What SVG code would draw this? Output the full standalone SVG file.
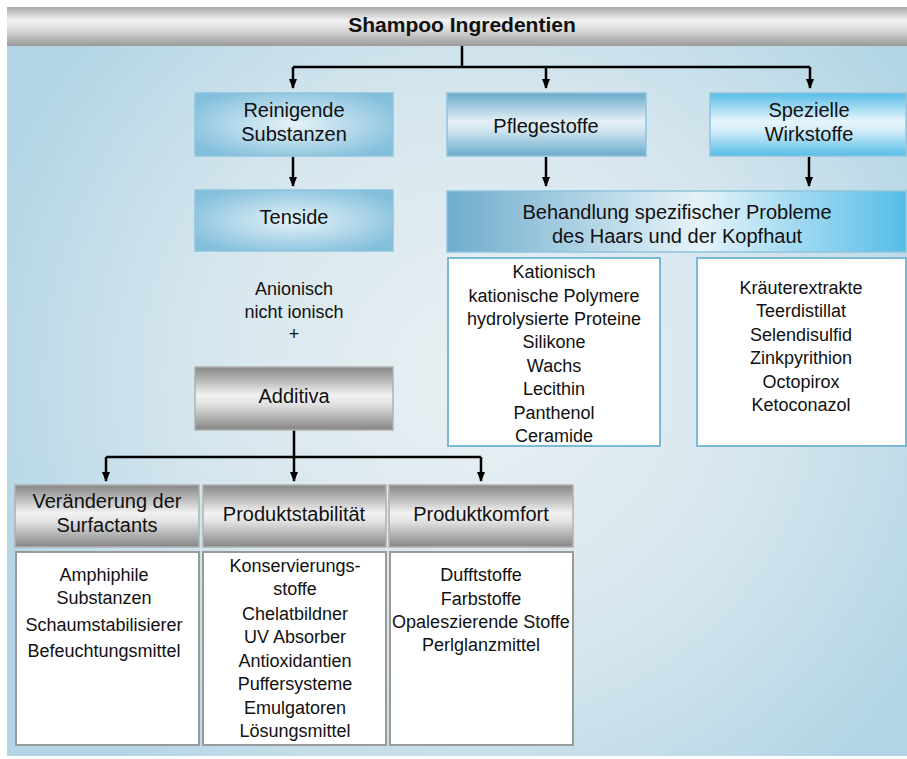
<svg xmlns="http://www.w3.org/2000/svg" width="907" height="759" viewBox="0 0 907 759">
<defs>
<radialGradient id="bg" cx="480" cy="380" r="520" gradientUnits="userSpaceOnUse">
<stop offset="0" stop-color="#eaf0f3"/><stop offset="0.55" stop-color="#d6e6ee"/><stop offset="1" stop-color="#b3d5e5"/>
</radialGradient>
<linearGradient id="gTitle" x1="0" y1="0" x2="0" y2="1">
<stop offset="0" stop-color="#a9a9a9"/><stop offset="0.35" stop-color="#f2f2f2"/><stop offset="0.6" stop-color="#d8d8d8"/><stop offset="1" stop-color="#9a9a9a"/>
</linearGradient>
<linearGradient id="gGray" x1="0" y1="0" x2="0" y2="1">
<stop offset="0" stop-color="#858585"/><stop offset="0.45" stop-color="#f2f2f2"/><stop offset="0.6" stop-color="#e0e0e0"/><stop offset="1" stop-color="#858585"/>
</linearGradient>
<radialGradient id="gBlueR" cx="0.5" cy="0.5" r="0.6">
<stop offset="0" stop-color="#e6f2f8"/><stop offset="1" stop-color="#82bfdc"/>
</radialGradient>
<linearGradient id="gBlueV" x1="0" y1="0" x2="0" y2="1">
<stop offset="0" stop-color="#69a9ca"/><stop offset="0.45" stop-color="#e4f0f6"/><stop offset="0.6" stop-color="#cfe5ef"/><stop offset="1" stop-color="#6aaacb"/>
</linearGradient>
<linearGradient id="gCyanV" x1="0" y1="0" x2="0" y2="1">
<stop offset="0" stop-color="#56bde7"/><stop offset="0.45" stop-color="#e8f5fb"/><stop offset="0.6" stop-color="#d2ecf8"/><stop offset="1" stop-color="#56bde7"/>
</linearGradient>
<linearGradient id="gBeh" x1="0" y1="0" x2="1" y2="0">
<stop offset="0" stop-color="#6eaccb"/><stop offset="0.55" stop-color="#e6f3f9"/><stop offset="1" stop-color="#55bde8"/>
</linearGradient>
<marker id="ah" viewBox="0 0 10 10" refX="9" refY="5" markerWidth="10" markerHeight="10" markerUnits="userSpaceOnUse" orient="auto">
<path d="M0,1 L10,5 L0,9 Z" fill="#000"/>
</marker>
<style>
text{font-family:"Liberation Sans","Open Sans",sans-serif;font-size:20px;fill:#111;text-anchor:middle}
.t{font-weight:bold;font-size:21px}
.l{font-size:18px}
.bb{stroke:#8fc4dd;stroke-width:1.5}
.gb{stroke:#b0b0b0;stroke-width:1.5}
.wb{fill:#fff;stroke:#7ab8d8;stroke-width:2}
.wg{fill:#fff;stroke:#9a9a9a;stroke-width:2}
.c{fill:none;stroke:#000;stroke-width:2.5}
</style>
</defs>
<rect x="0" y="0" width="907" height="759" fill="#fff"/>
<rect x="7" y="46" width="900" height="710" fill="url(#bg)"/>
<g id="title"><rect x="7" y="7" width="900" height="39" fill="url(#gTitle)"/><text class="t" x="462" y="32">Shampoo Ingredentien</text></g>
<g id="connectors">
<path class="c" d="M462,46 V67 M293,67 H810"/>
<path class="c" d="M293,67 V88" marker-end="url(#ah)"/>
<path class="c" d="M546,67 V88" marker-end="url(#ah)"/>
<path class="c" d="M810,67 V88" marker-end="url(#ah)"/>
<path class="c" d="M293,157 V186" marker-end="url(#ah)"/>
<path class="c" d="M546,157 V186" marker-end="url(#ah)"/>
<path class="c" d="M809,157 V186" marker-end="url(#ah)"/>
<path class="c" d="M294,430 V457 M106,457 H481"/>
<path class="c" d="M106,457 V481" marker-end="url(#ah)"/>
<path class="c" d="M294,457 V481" marker-end="url(#ah)"/>
<path class="c" d="M481,457 V481" marker-end="url(#ah)"/>
</g>
<g id="reinigende"><rect class="bb" x="195" y="93" width="198" height="63" fill="url(#gBlueR)"/><text x="294" y="117">Reinigende</text><text x="294" y="141">Substanzen</text></g>
<g id="pflegestoffe"><rect class="bb" x="447" y="93" width="199" height="63" fill="url(#gBlueV)"/><text x="546" y="133">Pflegestoffe</text></g>
<g id="spezielle"><rect class="bb" x="710" y="93" width="196" height="63" fill="url(#gCyanV)"/><text x="809" y="117">Spezielle</text><text x="809" y="141">Wirkstoffe</text></g>
<g id="tenside"><rect class="bb" x="195" y="190" width="198" height="61" fill="url(#gBlueR)"/><text x="294" y="224">Tenside</text></g>
<g id="behandlung"><rect class="bb" x="447" y="191" width="459" height="61" fill="url(#gBeh)"/><text x="677" y="219">Behandlung spezifischer Probleme</text><text x="677" y="243">des Haars und der Kopfhaut</text></g>
<g id="anionisch"><text class="l" x="294" y="295">Anionisch</text><text class="l" x="294" y="318">nicht ionisch</text><text class="l" x="294" y="340">+</text></g>
<g id="pflege-liste"><rect class="wb" x="448" y="258" width="212" height="188"/>
<text class="l" x="554" y="278">Kationisch</text><text class="l" x="554" y="302">kationische Polymere</text><text class="l" x="554" y="325">hydrolysierte Proteine</text><text class="l" x="554" y="348">Silikone</text><text class="l" x="554" y="372">Wachs</text><text class="l" x="554" y="395">Lecithin</text><text class="l" x="554" y="419">Panthenol</text><text class="l" x="554" y="442">Ceramide</text></g>
<g id="wirk-liste"><rect class="wb" x="697" y="258" width="209" height="188"/>
<text class="l" x="801" y="294">Kräuterextrakte</text><text class="l" x="801" y="317">Teerdistillat</text><text class="l" x="801" y="341">Selendisulfid</text><text class="l" x="801" y="364">Zinkpyrithion</text><text class="l" x="801" y="388">Octopirox</text><text class="l" x="801" y="411">Ketoconazol</text></g>
<g id="additiva"><rect class="gb" x="195" y="367" width="198" height="63" fill="url(#gGray)"/><text x="294" y="403">Additiva</text></g>
<g id="veraenderung"><rect class="gb" x="15" y="485" width="184" height="62" fill="url(#gGray)"/><text x="107" y="508">Veränderung der</text><text x="107" y="532">Surfactants</text></g>
<g id="produktstabilitaet"><rect class="gb" x="203" y="485" width="183" height="62" fill="url(#gGray)"/><text x="294" y="521">Produktstabilität</text></g>
<g id="produktkomfort"><rect class="gb" x="389" y="485" width="184" height="62" fill="url(#gGray)"/><text x="481" y="521">Produktkomfort</text></g>
<g id="liste-veraenderung"><rect class="wg" x="16" y="552" width="183" height="193"/>
<text class="l" x="104" y="581">Amphiphile</text><text class="l" x="104" y="604">Substanzen</text><text class="l" x="104" y="631">Schaumstabilisierer</text><text class="l" x="104" y="657">Befeuchtungsmittel</text></g>
<g id="liste-stabilitaet"><rect class="wg" x="203" y="552" width="183" height="193"/>
<text class="l" x="295" y="572">Konservierungs-</text><text class="l" x="295" y="595">stoffe</text><text class="l" x="295" y="620">Chelatbildner</text><text class="l" x="295" y="643">UV Absorber</text><text class="l" x="295" y="667">Antioxidantien</text><text class="l" x="295" y="690">Puffersysteme</text><text class="l" x="295" y="714">Emulgatoren</text><text class="l" x="295" y="737">Lösungsmittel</text></g>
<g id="liste-komfort"><rect class="wg" x="390" y="552" width="183" height="193"/>
<text class="l" x="481" y="581">Dufftstoffe</text><text class="l" x="481" y="605">Farbstoffe</text><text class="l" x="481" y="628">Opaleszierende Stoffe</text><text class="l" x="481" y="651">Perlglanzmittel</text></g>
</svg>
